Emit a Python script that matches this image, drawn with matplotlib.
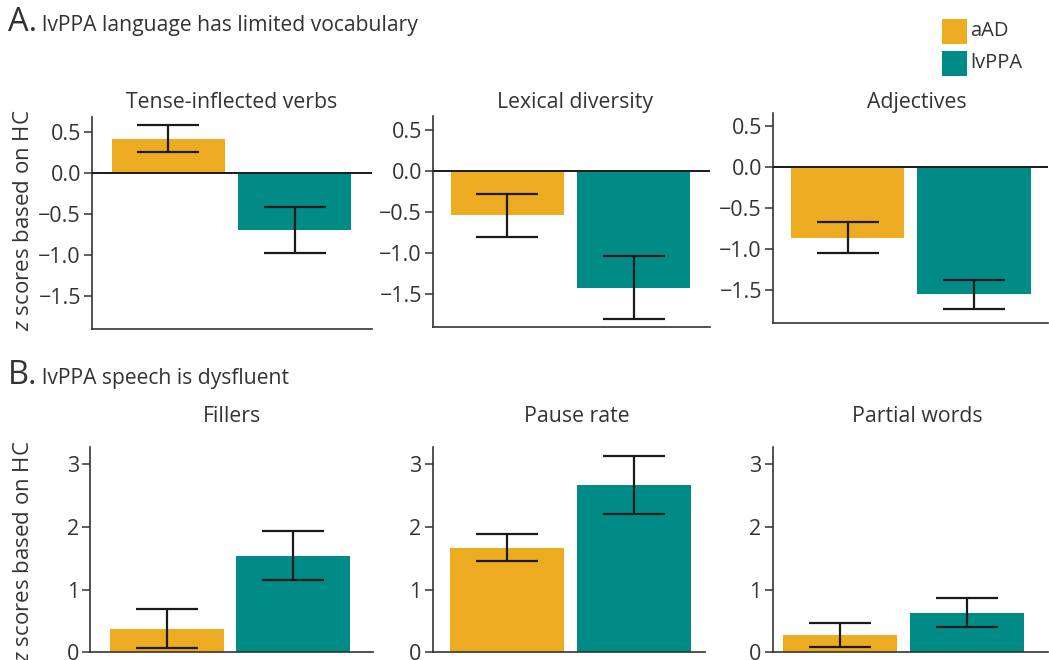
import matplotlib
matplotlib.use("Agg")
import matplotlib.pyplot as plt
from matplotlib.patches import Rectangle

plt.rcParams['font.family'] = ['Open Sans', 'DejaVu Sans']
plt.rcParams['mathtext.fontset'] = 'custom'
plt.rcParams['mathtext.rm'] = 'Open Sans'
plt.rcParams['mathtext.it'] = 'Open Sans:italic'
plt.rcParams['axes.unicode_minus'] = True

# ---- data ----
groups = ["aAD", "lvPPA"]
colors = ["#EDAB22", "#008B87"]

titles_a = ["Tense-inflected verbs", "Lexical diversity", "Adjectives"]
means_a = [[0.41, -0.70], [-0.535, -1.42], [-0.86, -1.55]]
lower_a = [[0.25, -0.98], [-0.80, -1.80], [-1.05, -1.73]]
upper_a = [[0.58, -0.42], [-0.28, -1.04], [-0.665, -1.38]]
yticks_a = [0.5, 0.0, -0.5, -1.0, -1.5]
yticklabels_a = ["0.5", "0.0", "\u22120.5", "\u22121.0", "\u22121.5"]

titles_b = ["Fillers", "Pause rate", "Partial words"]
means_b = [[0.376, 1.536], [1.668, 2.668], [0.276, 0.622]]
lower_b = [[0.064, 1.15], [1.456, 2.20], [0.089, 0.399]]
upper_b = [[0.695, 1.93], [1.887, 3.135], [0.472, 0.861]]
yticks_b = [0, 1, 2, 3]
yticklabels_b = ["0", "1", "2", "3"]

header_a = "lvPPA language has limited vocabulary"
header_b = "lvPPA speech is dysfluent"
ylabel = r"$\mathit{z}$ scores based on HC"

# ---- layout (pixels) ----
W, H = 1049, 660
fig = plt.figure(figsize=(W / 100, H / 100), dpi=100)
TXT = "#333333"

# (left, top, right, bottom) in px and x-limits for each panel
rects_a = [(92, 117.5, 372, 329.3), (433, 115.9, 710, 327.2), (773, 112.5, 1048, 322.7)]
xlims_a = [(-0.607, 1.615), (-0.589, 1.606), (-0.589, 1.585)]
title_x_a = [232, 575, 917]
rects_b = [(90, 447.3, 373, 652.3), (432.7, 447.3, 705, 652.3), (772.7, 447.3, 1048, 652.3)]
xlims_b = [(-0.61, 1.631), (-0.59, 1.564), (-0.535, 1.643)]
title_x_b = [232, 577, 917]


def make_ax(r):
    l, t, rr, b = r
    return fig.add_axes([l / W, 1 - b / H, (rr - l) / W, (b - t) / H])


def draw_panel(ax, means, lo, hi, ylim, yticks, yticklabels, xlim, zero_line):
    x = [0, 1]
    ax.bar(x, means, width=0.9, color=colors, edgecolor="none", zorder=2)
    yerr = [[m - l for m, l in zip(means, lo)], [h - m for m, h in zip(means, hi)]]
    ax.errorbar(x, means, yerr=yerr, fmt="none", ecolor="#1a1a1a",
                elinewidth=1.6, capsize=22, capthick=1.6, zorder=4)
    if zero_line:
        ax.axhline(0, color="#1a1a1a", lw=1.4, zorder=3)
    ax.set_xlim(*xlim)
    ax.set_ylim(*ylim)
    ax.set_xticks([])
    ax.set_yticks(yticks)
    ax.set_yticklabels(yticklabels)
    for s in ["top", "right"]:
        ax.spines[s].set_visible(False)
    for s in ["left", "bottom"]:
        ax.spines[s].set_color(TXT)
        ax.spines[s].set_linewidth(1.2)
    ax.tick_params(axis="y", length=6, width=1.1, color=TXT,
                   labelcolor=TXT, labelsize=15.5, pad=2)


for i in range(3):
    ax = make_ax(rects_a[i])
    draw_panel(ax, means_a[i], lower_a[i], upper_a[i], (-1.9, 0.67),
               yticks_a, yticklabels_a, xlims_a[i], True)
    fig.text(title_x_a[i] / W, 1 - 108 / H, titles_a[i], ha="center",
             va="baseline", fontsize=15.3, color=TXT)

for i in range(3):
    ax = make_ax(rects_b[i])
    draw_panel(ax, means_b[i], lower_b[i], upper_b[i], (0, 3.27),
               yticks_b, yticklabels_b, xlims_b[i], False)
    fig.text(title_x_b[i] / W, 1 - 422 / H, titles_b[i], ha="center",
             va="baseline", fontsize=15.3, color=TXT)

# y-axis labels
fig.text(24 / W, 1 - 220 / H, ylabel, rotation=90, ha="center", va="center",
         fontsize=16, color=TXT)
fig.text(24 / W, 1 - 551 / H, ylabel, rotation=90, ha="center", va="center",
         fontsize=16, color=TXT)

# section headers
fig.text(8 / W, 1 - 31 / H, "A.", fontsize=23.5, color=TXT, va="baseline")
fig.text(42 / W, 1 - 31 / H, header_a, fontsize=15.2, color=TXT, va="baseline")
fig.text(8 / W, 1 - 384 / H, "B.", fontsize=23.5, color=TXT, va="baseline")
fig.text(42 / W, 1 - 384 / H, header_b, fontsize=15.2, color=TXT, va="baseline")

# legend
for j, (g, c) in enumerate(zip(groups, colors)):
    top = 19 + 32 * j
    fig.patches.append(Rectangle((941.7 / W, 1 - (top + 25) / H), 25 / W, 25 / H,
                                 transform=fig.transFigure, facecolor=c,
                                 edgecolor="none"))
    fig.text(970 / W, 1 - (top + 12.5) / H, g, fontsize=14.5, color=TXT,
             va="center", ha="left")

fig.savefig("out.png", dpi=100)
